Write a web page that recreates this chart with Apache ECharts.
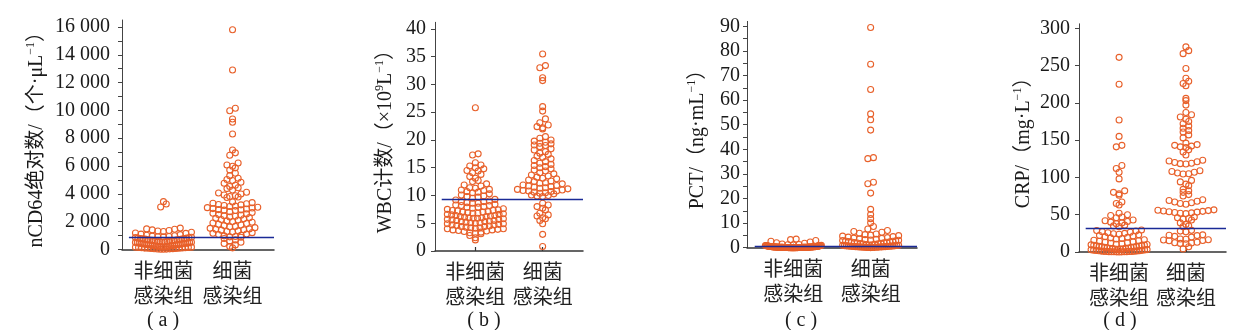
<!DOCTYPE html>
<html><head><meta charset="utf-8">
<script src="https://cdn.jsdelivr.net/npm/echarts@6/dist/echarts.min.js"></script>
<style>html,body{margin:0;padding:0;background:#fff}#c{width:1246px;height:330px}</style>
</head><body><div id="c"></div>
<script>
// ---------- data ----------
const groups = ['非细菌\n感染组', '细菌\n感染组'];
const captions = ['( a )', '( b )', '( c )', '( d )'];
const yNames = [
  '{t|nCD64绝对数/（个·μL}{s|−1}{t|）}',
  '{t|WBC计数/（×10}{s|9}{t|L}{s|−1}{t|）}',
  '{t|PCT/（ng·mL}{s|−1}{t|）}',
  '{t|CRP/（mg·L}{s|−1}{t|）}'
];
const yLabelValues = [
  [0, 2000, 4000, 6000, 8000, 10000, 12000, 14000, 16000],
  [0, 5, 10, 15, 20, 25, 30, 35, 40],
  [0, 10, 20, 30, 40, 50, 60, 70, 80, 90],
  [0, 50, 100, 150, 200, 250, 300]
];
const yTickValues = [
  [0, 1000, 2000, 3000, 4000, 5000, 6000, 7000, 8000, 9000, 10000, 11000, 12000, 13000, 14000, 15000, 16000],
  [0, 5, 10, 15, 20, 25, 30, 35, 40],
  [0, 5, 10, 15, 20, 25, 30, 35, 40, 45, 50, 55, 60, 65, 70, 75, 80, 85, 90],
  [0, 50, 100, 150, 200, 250, 300]
];
const yMax = [16500, 41.2, 92, 306];
const cutoffs = [870, 9.4, 0.5, 31.8];

const cd64NonBac = [3440, 3270, 3060,
  1540, 1480, 1455, 1410, 1370, 1335, 1290, 1245, 1190, 1160, 1105, 1070, 1020,
  985, 965, 940, 920, 905, 885, 860, 845,
  830, 815, 795, 780, 770, 750, 745, 720, 705, 695, 680, 660, 655, 635, 620, 610, 590, 585, 560, 550,
  540, 525, 510, 505, 490, 470, 465, 445, 440, 425, 410, 405, 385, 380, 360, 355, 340, 330, 315, 310,
  295, 285, 270, 265, 250, 240, 230, 220, 215, 200, 190, 185, 170, 160, 150, 145, 130, 125, 110, 100,
  95, 85, 75, 70, 60, 50, 45, 35, 30, 20, 15];
const cd64Bac = [15800, 12900, 10150, 9980, 9380, 9150, 8300,
  7150, 6950, 6780, 6220, 6080, 5980, 5870, 5720, 5480, 5310,
  5120, 5030, 4960, 4840, 4760, 4620, 4530, 4440, 4380, 4270,
  4120, 4060, 3990, 3920, 3860, 3810, 3770, 3740,
  3420, 3370, 3330, 3290, 3240, 3210, 3160, 3120, 3090, 3040, 3010, 2980, 2940, 2910, 2870, 2850, 2830, 2800,
  2720, 2660, 2610, 2560, 2510, 2470, 2420, 2390, 2340, 2290, 2240, 2210, 2160, 2120, 2060, 2010,
  1960, 1910, 1870, 1820, 1760, 1720, 1660, 1630, 1570, 1520, 1480, 1450, 1420, 1390,
  1340, 1290, 1260, 1210, 1170, 1110, 1080, 1020, 980, 940, 910, 880,
  790, 690, 610, 520, 430, 330, 210, 120];

const wbcNonBac = [25.8, 17.5, 17.3,
  15.9, 15.5, 15.3, 15.0, 14.8, 14.5, 14.4, 14.1,
  13.8, 13.4, 13.1, 12.7, 12.5, 12.1,
  11.9, 11.7, 11.4, 11.3, 11.1, 11.0, 10.9, 10.7, 10.6, 10.5,
  10.3, 10.1, 9.9, 9.8, 9.7, 9.5, 9.3, 9.2,
  9.0, 8.9, 8.9, 8.7, 8.6, 8.6, 8.4, 8.3, 8.2, 8.2, 8.0, 7.9, 7.9, 7.7, 7.6, 7.5,
  7.4, 7.3, 7.3, 7.2, 7.1, 7.0, 7.0, 6.9, 6.8, 6.8, 6.7, 6.6, 6.6, 6.5, 6.4, 6.4, 6.3, 6.2, 6.2, 6.1, 6.0, 6.0,
  5.9, 5.9, 5.8, 5.7, 5.7, 5.6, 5.5, 5.5, 5.4, 5.3, 5.3, 5.2, 5.1, 5.1, 5.0, 4.9, 4.9, 4.8, 4.7, 4.7, 4.6, 4.5,
  4.4, 4.4, 4.3, 4.2, 4.2, 4.1, 4.0, 4.0, 3.9, 3.8, 3.8, 3.7, 3.6, 3.5, 3.4, 3.3, 3.2, 3.1,
  2.8, 2.4, 2.0];
const wbcBac = [35.5, 33.4, 33.0, 31.2, 30.7, 26.0, 25.2, 23.8, 23.1, 22.7, 22.4, 22.2, 22.0,
  20.6, 20.3, 20.0, 19.8, 19.6, 19.4, 19.3, 19.1, 19.0,
  18.8, 18.4, 18.2, 17.9, 17.6, 17.4, 17.1, 16.9, 16.6, 16.3, 16.1,
  15.8, 15.6, 15.4, 15.2, 15.0, 14.8, 14.6, 14.4, 14.1, 13.9, 13.7, 13.5,
  13.3, 13.1, 13.0, 12.8, 12.6, 12.5, 12.3, 12.2, 12.1, 11.9, 11.8, 11.7, 11.6, 11.5, 11.4, 11.3, 11.2,
  11.1, 11.0, 10.9, 10.8, 10.8, 10.7, 10.6, 10.5, 10.4, 10.3, 10.1, 10.0, 9.9, 9.8,
  8.6, 8.3, 8.0, 7.7, 7.4, 6.8, 6.5, 6.3, 6.0, 5.8, 5.5, 4.9,
  3.0, 0.8];

const pctNonBac = [3.5, 3.3, 2.9, 2.6, 2.3, 2.0, 1.8, 1.5, 1.3, 1.2, 1.1, 1.0,
  0.92, 0.88, 0.85, 0.8, 0.78, 0.75, 0.7, 0.68, 0.65, 0.62, 0.6, 0.58, 0.55, 0.52, 0.5, 0.5, 0.48, 0.45,
  0.44, 0.42, 0.4, 0.4, 0.38, 0.36, 0.35, 0.34, 0.32, 0.3, 0.3, 0.29, 0.28, 0.27, 0.26, 0.25, 0.25, 0.24,
  0.23, 0.22, 0.21, 0.2, 0.2, 0.2, 0.19, 0.18, 0.18, 0.17, 0.16, 0.15, 0.15, 0.15, 0.14, 0.13, 0.12, 0.12,
  0.11, 0.1, 0.1, 0.1, 0.1, 0.09, 0.09, 0.08, 0.08, 0.08, 0.07, 0.07, 0.06, 0.06, 0.05, 0.05, 0.05, 0.05,
  0.05, 0.04, 0.04, 0.04, 0.03, 0.03, 0.03, 0.02, 0.02, 0.02, 0.02];
const pctBac = [89.5, 74.6, 64.3, 54.4, 52.0, 47.8, 36.6, 36.2, 26.6, 26.0, 22.2, 15.6, 13.5, 11.8, 10.1,
  8.6, 7.6, 7.0, 6.6, 6.3,
  5.9, 5.6, 5.3, 5.1, 4.9, 4.7, 4.5, 4.3, 4.1, 3.9, 3.8, 3.6, 3.4, 3.3, 3.1,
  3.0, 2.9, 2.8, 2.7, 2.6, 2.5, 2.4, 2.3, 2.2, 2.1, 2.0, 1.9, 1.8, 1.7, 1.6, 1.5, 1.4, 1.3, 1.2, 1.1,
  1.0, 0.95, 0.9, 0.85, 0.8, 0.75, 0.7, 0.68, 0.65, 0.6, 0.58, 0.55, 0.5, 0.48, 0.45, 0.42, 0.4, 0.38,
  0.35, 0.32, 0.3, 0.28, 0.25, 0.22, 0.2, 0.18, 0.15, 0.12, 0.1, 0.08, 0.05];

const crpNonBac = [261, 225, 177, 155, 143, 141, 116, 112, 107, 98, 82, 80, 78, 76, 67, 65, 63,
  52, 50, 49, 47, 46, 43, 42, 41, 40, 39, 38, 36, 35, 34,
  29.5, 28.8, 28, 27.2, 26.5, 25.8, 25, 24.4, 23.8,
  23, 22.2, 21.4, 20.6, 19.8, 19, 18.2, 17.4,
  16.5, 15.8, 15, 14.4, 13.6, 13, 12.4, 11.8, 11, 10.4,
  10, 9.6, 9.2, 9, 8.6, 8.2, 8, 7.6, 7.2, 7, 6.6, 6.2, 6, 5.6, 5.2, 5, 4.8, 4.5, 4.2, 4, 3.8, 3.5,
  3.2, 3, 2.8, 2.5, 2.2, 2, 1.8, 1.6, 1.5, 1.2, 1, 0.9, 0.8, 0.7, 0.6, 0.5, 0.5, 0.4, 0.3, 0.3, 0.2, 0.2, 0.1];
const crpBac = [275, 270, 266, 246, 233, 229, 226, 223, 206, 203, 197, 187, 184, 181, 178, 175, 172, 169,
  166, 163, 161, 157, 153,
  146, 144, 143, 142, 141, 140, 137, 134, 130,
  123, 122, 121, 120, 119, 118.5, 118, 109, 108, 107, 106, 105, 104.5,
  96, 94, 91, 89, 84, 82, 80, 77, 75,
  70, 69, 68, 67, 66, 65, 64,
  56.5, 56, 55.5, 55, 54.5, 54, 53.5, 53, 52.5, 52, 51.5,
  47, 46, 45, 44, 43, 39, 37, 35, 34, 29, 28, 27,
  23, 22.5, 22, 21, 20, 17.5, 17, 16.5, 16, 15.5, 15, 13, 12.5, 12, 11.5, 11, 7, 4];

const panels = [
  [cd64NonBac, cd64Bac], [wbcNonBac, wbcBac], [pctNonBac, pctBac], [crpNonBac, crpBac]
];

// ---------- layout ----------
const grids = [
  {left: 122, top: 20, width: 152, height: 229.5},
  {left: 435, top: 22.3, width: 148, height: 228.7},
  {left: 747, top: 21.4, width: 170, height: 226.3},
  {left: 1079, top: 23.8, width: 147, height: 228.2}
];
const nameGaps = [73, 37, 37, 43];
const labelMargins = [12, 9, 7, 9];
const captionPos = [[163, 321], [484, 321], [801, 321], [1120, 321]];
const X_MIN = -0.6, X_MAX = 1.6;
const ROW_H = 5, STEP = 5.6, MAX_W = 56;

const ORANGE = '#e8602a';
const NAVY = '#1a2a96';
const AXIS = '#333';
const SERIF = "'Liberation Serif','Noto Sans CJK SC',serif";
const CJK = "'Noto Sans CJK SC',sans-serif";

function swarm(values, g, pxPerY, pxPerX) {
  const rows = new Map();
  values.forEach(v => {
    const k = Math.round(v * pxPerY / ROW_H);
    if (!rows.has(k)) rows.set(k, []);
    rows.get(k).push(v);
  });
  const out = [];
  rows.forEach(list => {
    list.sort((a, b) => a - b);
    const n = list.length;
    const s = n > 1 ? Math.min(STEP, MAX_W / (n - 1)) : 0;
    const slots = [];
    for (let i = 0; i < n; i++) slots.push((i - (n - 1) / 2) * s);
    slots.sort((a, b) => Math.abs(a) - Math.abs(b) || a - b);
    list.forEach((v, i) => out.push([g + slots[i] / pxPerX, v]));
  });
  return out;
}

function fmtNum(v) {
  return String(v).replace(/\B(?=(\d{3})+(?!\d))/g, ' ');
}

const option = {
  animation: false,
  backgroundColor: '#fff',
  grid: grids.map(g => Object.assign({containLabel: false}, g)),
  xAxis: grids.map((g, i) => ({
    type: 'value', gridIndex: i, min: X_MIN, max: X_MAX,
    axisLine: {show: true, onZero: false, lineStyle: {color: AXIS, width: 1.5}},
    axisTick: {show: true, inside: true, length: 4, customValues: [0, 1], lineStyle: {color: AXIS, width: 1.2}},
    axisLabel: {show: true, customValues: [0, 1], formatter: v => groups[Math.round(v)],
      fontSize: 20, lineHeight: 25, fontFamily: CJK, color: '#222', margin: 8},
    splitLine: {show: false}
  })),
  yAxis: grids.map((g, i) => ({
    type: 'value', gridIndex: i, min: 0, max: yMax[i],
    axisLine: {show: true, onZero: false, lineStyle: {color: '#444', width: 1}},
    axisTick: {show: true, inside: false, length: 4, customValues: yTickValues[i], lineStyle: {color: '#444'}},
    axisLabel: {show: true, customValues: yLabelValues[i], formatter: fmtNum,
      fontSize: 20, fontFamily: SERIF, color: '#1a1a1a', margin: labelMargins[i]},
    splitLine: {show: false},
    name: yNames[i], nameLocation: 'middle', nameGap: nameGaps[i],
    nameTextStyle: {
      color: '#1a1a1a',
      rich: {
        t: {fontSize: 20, fontFamily: SERIF, color: '#1a1a1a', lineHeight: 24},
        s: {fontSize: 12, fontFamily: SERIF, color: '#1a1a1a', verticalAlign: 'top', lineHeight: 24, padding: [0, 0, 8, 0]}
      }
    }
  })),
  series: panels.map((pair, i) => {
    const g = grids[i];
    const pxPerY = g.height / yMax[i];
    const pxPerX = g.width / (X_MAX - X_MIN);
    const data = swarm(pair[0], 0, pxPerY, pxPerX).concat(swarm(pair[1], 1, pxPerY, pxPerX));
    return {
      type: 'scatter', xAxisIndex: i, yAxisIndex: i, silent: true,
      symbol: 'circle', symbolSize: 6,
      itemStyle: {color: 'rgba(255,255,255,0)', borderColor: ORANGE, borderWidth: 1.1, opacity: 1},
      data: data,
      markLine: {
        silent: true, symbol: 'none', label: {show: false},
        lineStyle: {color: NAVY, width: 1.3, type: 'solid', opacity: 1},
        data: [[{coord: [-0.5, cutoffs[i]]}, {coord: [X_MAX, cutoffs[i]]}]]
      }
    };
  }),
  graphic: captions.map((c, i) => ({
    type: 'text', x: captionPos[i][0], y: captionPos[i][1],
    style: {text: c, font: "20px 'Liberation Serif'", fill: '#1a1a1a',
      textAlign: 'center', textVerticalAlign: 'middle'}
  }))
};

const chart = echarts.init(document.getElementById('c'), null, {renderer: 'canvas'});
chart.setOption(option);
</script>
</body></html>
